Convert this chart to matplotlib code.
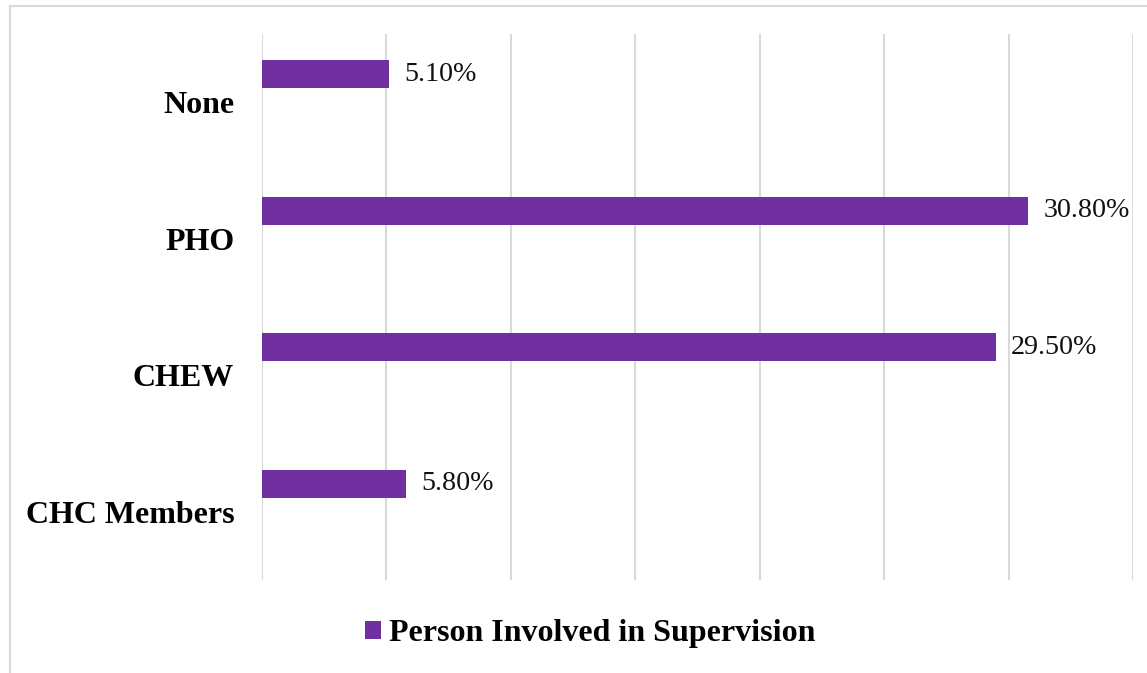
import matplotlib.pyplot as plt
from matplotlib.lines import Line2D

categories = ["None", "PHO", "CHEW", "CHC Members"]
values = [5.1, 30.8, 29.5, 5.8]
labels = ["5.10%", "30.80%", "29.50%", "5.80%"]
series_name = "Person Involved in Supervision"

purple = "#7030A0"
grid_c = "#d9d9d9"

plt.rcParams['font.family'] = ['Liberation Serif', 'DejaVu Serif']

fig = plt.figure(figsize=(11.47, 6.73), dpi=100)
ax = fig.add_axes([262 / 1147, 93 / 673, 871 / 1147, 546 / 673])

# chart border (only top and left edges show in the crop)
bx = 9.5 / 1147
by = 1 - 5.5 / 673
fig.lines.append(Line2D([bx, 1], [by, by], transform=fig.transFigure,
                        color=grid_c, linewidth=1.5))
fig.lines.append(Line2D([bx, bx], [0, by], transform=fig.transFigure,
                        color=grid_c, linewidth=1.5))

ypos = list(range(len(categories)))
bar_y = [y - 0.205 for y in ypos]
bars = ax.barh(bar_y, values, height=0.205, color=purple, label=series_name, zorder=3)

for b, lab in zip(bars, labels):
    ax.text(b.get_width() + 0.6, b.get_y() + b.get_height() / 2, lab,
            va="center", ha="left", fontsize=20.2, color="#111111")

ax.set_xlim(0, 35)
ax.set_ylim(3.5, -0.5)
ax.set_xticks(range(0, 36, 5))
ax.set_xticklabels([])
ax.set_yticks(ypos)
ax.set_yticklabels(categories, fontsize=23, fontweight="bold")
ax.tick_params(length=0, pad=20)
ax.grid(axis="x", color=grid_c, linewidth=1.5, zorder=0)
for s in ax.spines.values():
    s.set_visible(False)

fig.legend(handles=[bars], labels=[series_name], loc="center",
           bbox_to_anchor=(590 / 1147, 1 - 634 / 673), frameon=False,
           prop={"size": 23, "weight": "bold"}, handlelength=0.5,
           handleheight=0.5, handletextpad=0.25)

fig.savefig("out.png", dpi=100)
